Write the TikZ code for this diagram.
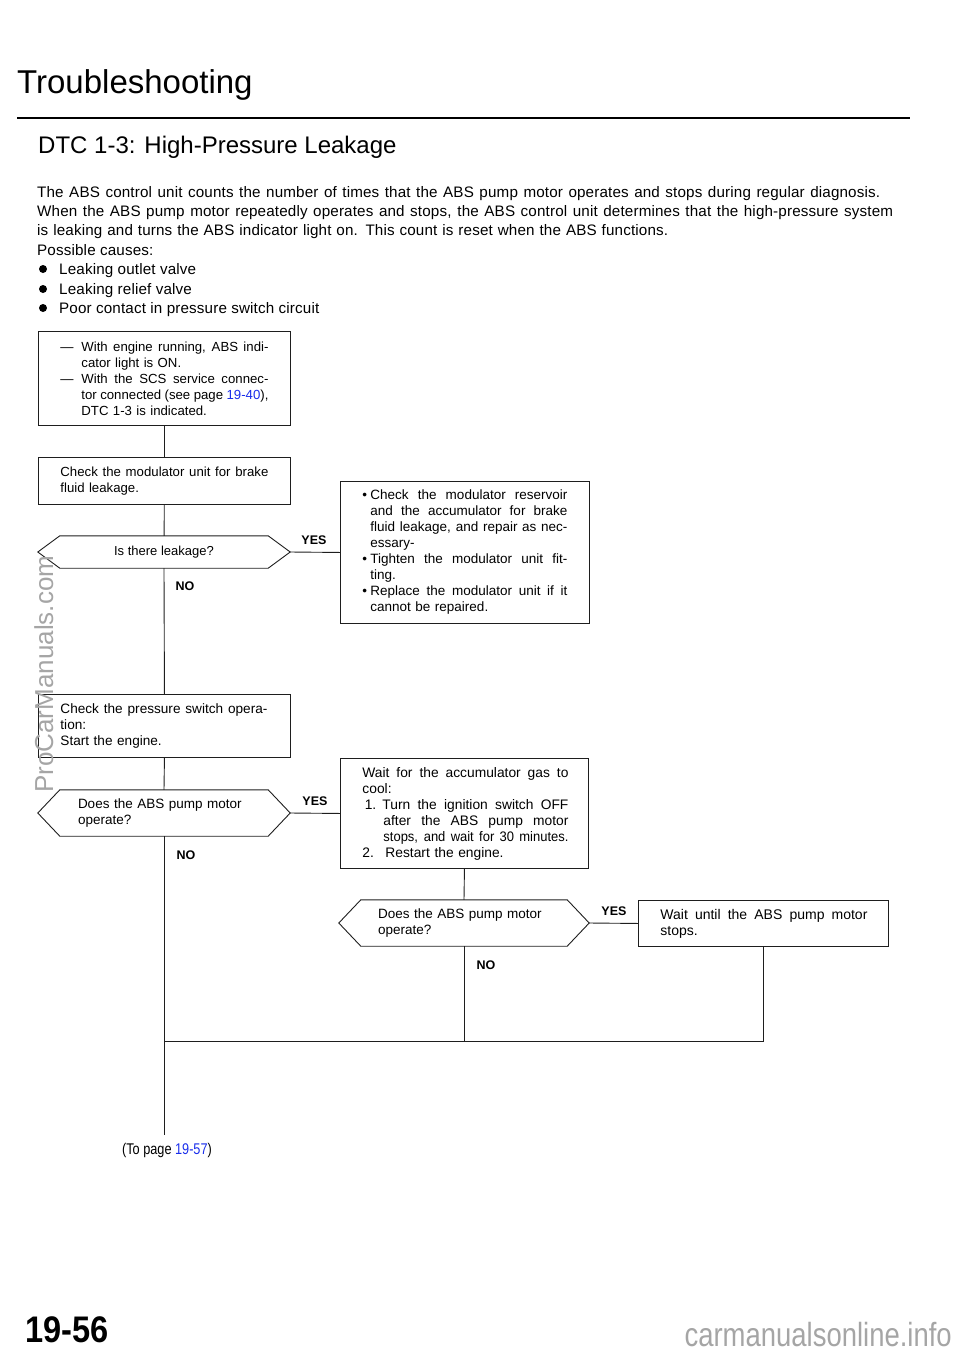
\documentclass[tikz,border=0pt]{standalone}
\usepackage{fontspec}
\setmainfont{Liberation Sans}
\newfontfamily\spacedfont[LetterSpace=1]{Liberation Sans}
\newfontfamily\tightfont[FakeStretch=0.94]{Liberation Sans}
\newfontfamily\narrowfont[FakeStretch=0.82]{Liberation Sans}
\newfontfamily\pagenofont[FakeStretch=0.88]{Liberation Sans}
\usepackage{xcolor}
\usetikzlibrary{positioning}
\definecolor{pageBlue}{RGB}{25, 45, 235}
\definecolor{markGray}{RGB}{165, 165, 165}
\definecolor{lineGray}{RGB}{30, 30, 30}
% justified line of given width, optional hanging indent
\newcommand{\jline}[3][0pt]{\hspace*{#1}\makebox[\dimexpr#2-#1\relax][s]{\spaceskip=0pt\xspaceskip=0pt #3}}
% outline of a question node
\newcommand{\questionoutline}[1]{\draw[lineGray,line width=0.9pt] (#1.west) -- ([xshift=22pt]#1.north west) -- ([xshift=-22pt]#1.north east) -- (#1.east) -- ([xshift=-22pt]#1.south east) -- ([xshift=22pt]#1.south west) -- cycle;}

\begin{document}
\begin{tikzpicture}[x=1pt,y=-1pt,
    para/.style={anchor=base west,inner sep=0pt,font=\spacedfont\fontsize{15.2}{19.5}\selectfont},
    stepbox/.style={draw=lineGray,line width=0.9pt,anchor=north west,inner xsep=22pt,inner ysep=0pt,align=left,font=\fontsize{13.2}{16}\selectfont},
    question/.style={inner sep=0pt,minimum width=252pt,font=\fontsize{13.5}{16}\selectfont},
    answer/.style={inner sep=0pt,font=\fontsize{12.5}{14}\selectfont\bfseries},
    link/.style={draw=lineGray,line width=0.9pt}]
    \useasboundingbox (0,0) rectangle (960,1353);

    % Heading
    \node[anchor=base west,inner sep=0pt,font=\fontsize{33}{38}\selectfont] (title) at (17,93) {Troubleshooting};
    \draw[line width=2.3pt] (17,118) -- (910,118);
    \node[anchor=base west,inner sep=0pt,font=\fontsize{24}{28}\selectfont] (dtc) at (38,153) {DTC 1-3: High-Pressure Leakage};

    % Description
    \node[para] (intro1) at (37,197) {\makebox[843pt][s]{The ABS control unit counts the number of times that the ABS pump motor operates and stops during regular diagnosis.}};
    \node[para] (intro2) at (37,216) {\makebox[856pt][s]{When the ABS pump motor repeatedly operates and stops, the ABS control unit determines that the high-pressure system}};
    \node[para] (intro3) at (37,235) {\makebox[631pt][s]{is leaking and turns the ABS indicator light on. This count is reset when the ABS functions.}};
    \node[para] (causes) at (37,255) {Possible causes:};
    \foreach \y/\t in {274/Leaking outlet valve, 294/Leaking relief valve, 313/Poor contact in pressure switch circuit} {
        \fill (43,\y-5) circle (4);
        \node[para] (cause\y) at (59,\y) {\t};
    }

    % Flow
    \node[stepbox,text width=208pt,minimum height=94pt] (symptom) at (38,331) {%
        \jline{208pt}{\makebox[21pt][l]{\textemdash}With engine running, ABS indi-}\\
        \hspace*{21pt}cator light is ON.\\
        \jline{208pt}{\makebox[21pt][l]{\textemdash}With the SCS service connec-}\\
        \jline[21pt]{208pt}{tor connected (see page \textcolor{pageBlue}{19-40}),}\\
        \hspace*{21pt}DTC 1-3 is indicated.};

    \node[stepbox,text width=208pt,minimum height=47pt] (leakcheck) at (38,457) {%
        \jline{208pt}{Check the modulator unit for brake}\\
        fluid leakage.};

    \node[question,minimum height=32pt,font=\fontsize{13}{16}\selectfont] (leak) at (164,552) {Is there leakage?};
    \questionoutline{leak}

    \node[stepbox,text width=205pt,minimum height=142pt,font=\fontsize{13.5}{16}\selectfont] (repair) at (340,481) {%
        \jline{205pt}{\makebox[8pt][l]{\textbullet}Check the modulator reservoir}\\
        \jline[8pt]{205pt}{and the accumulator for brake}\\
        \jline[8pt]{205pt}{fluid leakage, and repair as nec-}\\
        \hspace*{8pt}essary-\\
        \jline{205pt}{\makebox[8pt][l]{\textbullet}Tighten the modulator unit fit-}\\
        \hspace*{8pt}ting.\\
        \jline{205pt}{\makebox[8pt][l]{\textbullet}Replace the modulator unit if it}\\
        \hspace*{8pt}cannot be repaired.};

    \node[stepbox,text width=208pt,minimum height=63pt,font=\fontsize{13.6}{16}\selectfont] (switchcheck) at (38,694) {%
        \jline{207pt}{Check the pressure switch opera-}\\
        tion:\\
        Start the engine.};

    \node[question,minimum height=46pt,text width=172pt,align=left] (pump) at (164,813) {Does the ABS pump motor\\operate?};
    \questionoutline{pump}

    \node[stepbox,text width=204pt,minimum height=110pt,font=\fontsize{13.8}{16}\selectfont] (cool) at (340,758) {%
        \jline{206pt}{Wait for the accumulator gas to}\\
        cool:\\
        \jline{206pt}{\makebox[20pt][l]{\,1.}Turn the ignition switch OFF}\\
        \jline[21pt]{206pt}{after the ABS pump motor}\\
        \jline[21pt]{206pt}{\tightfont stops, and wait for 30 minutes.}\\
        \makebox[23pt][l]{2.}Restart the engine.};

    \node[question,minimum width=250pt,minimum height=46pt,text width=172pt,align=left] (pumpagain) at (464,923) {Does the ABS pump motor\\operate?};
    \questionoutline{pumpagain}

    \node[stepbox,text width=206pt,minimum height=46pt,font=\fontsize{14}{16}\selectfont] (stop) at (638,900) {%
        \jline{207pt}{Wait until the ABS pump motor}\\
        stops.};

    % Connectors
    \draw[link] (symptom) -- (leakcheck);
    \draw[link] (leakcheck) -- (leak);
    \draw[link] (leak.east) -- (repair.west);
    \draw[link] (leak.south) -- (switchcheck.north);
    \draw[link] (switchcheck.south) -- (pump.north);
    \draw[link] (pump.east) -- (cool.west);
    \draw[link] (cool.south) -- (pumpagain.north);
    \draw[link] (pumpagain.east) -- (stop.west);
    \coordinate (merge) at (164,1041);
    \coordinate (exit) at (164,1135);
    \draw[link] (pump.south) -- (exit);
    \draw[link] (pumpagain.south) -- (pumpagain.south |- merge);
    \draw[link] (stop.south) -- (stop.south |- merge) -- (merge);

    % Answers
    \node[answer] (leakyes) at (314,540) {YES};
    \node[answer] (leakno) at (185,586) {NO};
    \node[answer] (pumpyes) at (315,801) {YES};
    \node[answer] (pumpno) at (186,855) {NO};
    \node[answer] (againyes) at (614,911) {YES};
    \node[answer] (againno) at (486,965) {NO};

    \node[inner sep=0pt,font=\narrowfont\fontsize{15.5}{18}\selectfont] (topage) at (167,1150) {(To page \textcolor{pageBlue}{19-57})};

    % Page footer and marks
    \node[anchor=base west,inner sep=0pt,font=\pagenofont\fontsize{37}{40}\selectfont\bfseries] (pageno) at (25,1342) {19-56};
    \node[anchor=base east,inner sep=0pt,text=markGray,font=\narrowfont\fontsize{33.5}{36}\selectfont] (sitemark) at (952,1346) {carmanualsonline.info};
    \node[rotate=90,anchor=base west,inner sep=0pt,text=markGray,font=\fontsize{26}{30}\selectfont] (sidemark) at (53,793) {ProCarManuals.com};
\end{tikzpicture}
\end{document}
